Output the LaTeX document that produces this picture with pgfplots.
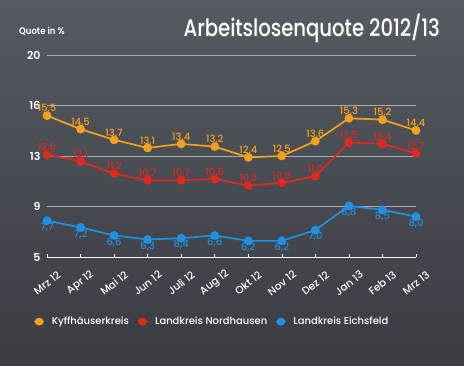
\documentclass[border=0pt]{standalone}
\usepackage{pgfplots}
\pgfplotsset{compat=1.18}
\usepackage{fontspec}
\setmainfont{Poppins}[UprightFont={* Medium}, BoldFont={* SemiBold}]
\definecolor{bgtop}{HTML}{555A62}
\definecolor{bgbot}{HTML}{393C41}
\definecolor{cor}{HTML}{F5A11C}
\definecolor{cred}{HTML}{E2281C}
\definecolor{cblue}{HTML}{2090E2}
\definecolor{gridc}{HTML}{A9ACB0}
\begin{document}
\begin{tikzpicture}[x=1bp,y=1bp]
\useasboundingbox (-47,-108) rectangle (417,257);
\shade[top color=bgtop, bottom color=bgbot] (-47,-108) rectangle (417,257);
\node[anchor=east, text=black!60, opacity=0.7, font=\fontsize{24}{26}\selectfont, xscale=0.82, inner sep=0pt] at (394.5,227.5) {Arbeitslosenquote 2012/13};
\node[anchor=east, text=white, font=\fontsize{24}{26}\selectfont, xscale=0.82, inner sep=0pt] at (393,229) {Arbeitslosenquote 2012/13};
\node[anchor=west, text=white, font=\fontsize{9.5}{11}\selectfont\bfseries, inner sep=0pt, xscale=0.9] at (-28,226) {Quote in \%};
\begin{axis}[
  at={(0,0)}, anchor=south west,
  scale only axis, width=369bp, height=202bp,
  xmin=0, xmax=11, ymin=5, ymax=20,
  axis x line=bottom, axis y line=left,
  x axis line style={white, line width=1pt, -},
  y axis line style={draw=none},
  ytick={5,8.75,12.5,16.25,20}, yticklabels={5,9,13,16,20},
  ytick style={draw=none},
  ymajorgrids, grid style={gridc, line width=0.8pt},
  yticklabel style={text=white, font=\fontsize{11}{12}\selectfont\bfseries, anchor=east, xshift=-3bp},
  xtick={0,...,11},
  xticklabels={Mrz 12,Apr 12,Mai 12,Jun 12,Juli 12,Aug 12,Okt 12,Nov 12,Dez 12,Jan 13,Feb 13,Mrz 13},
  xtick style={white, line width=0.6pt},
  tick align=inside, major tick length=3bp,
  xticklabel style={text=white, font=\fontsize{10.5}{11}\selectfont, yshift=-26bp, rotate=38, anchor=center},
  /pgf/number format/.cd, use comma, fixed, fixed zerofill, precision=1, assume math mode=true,
  /pgfplots/.cd,
  every axis plot/.append style={line width=1.7pt, mark=*, mark size=3.5bp},
  nodes near coords,
  every node near coord/.append style={font=\fontsize{10}{11}\selectfont, inner sep=1.5bp},
  clip=false,
  legend columns=3,
  legend style={at={(axis description cs:-0.045,-0.32)}, anchor=west, draw=none, fill=none,
    text=white, font=\fontsize{10}{11}\selectfont,
    /tikz/every even column/.append style={column sep=6bp},
    /tikz/every odd column/.append style={column sep=5bp}},
  legend image code/.code={\draw[#1, line width=1.2pt] (-5bp,0) -- (5bp,0); \fill[#1] (0,0) ellipse (3.6bp and 3bp);},
]
\addplot[cor, every node near coord/.append style={text=cor, anchor=south}] coordinates {
(0,15.5)(1,14.5)(2,13.7)(3,13.1)(4,13.4)(5,13.2)(6,12.4)(7,12.5)(8,13.6)(9,15.3)(10,15.2)(11,14.4)};
\addlegendentry{Kyffhäuserkreis\hspace{18bp}}
\addplot[cred, every node near coord/.append style={text=cred, anchor=south}] coordinates {
(0,12.6)(1,12.1)(2,11.2)(3,10.7)(4,10.7)(5,10.8)(6,10.3)(7,10.5)(8,11.0)(9,13.5)(10,13.4)(11,12.7)};
\addlegendentry{Landkreis Nordhausen\hspace{18bp}}
\addplot[cblue, every node near coord/.append style={text=cblue, anchor=north}] coordinates {
(0,7.7)(1,7.2)(2,6.6)(3,6.3)(4,6.4)(5,6.6)(6,6.2)(7,6.2)(8,7.0)(9,8.8)(10,8.5)(11,8.0)};
\addlegendentry{Landkreis Eichsfeld}
\end{axis}
\end{tikzpicture}
\end{document}
